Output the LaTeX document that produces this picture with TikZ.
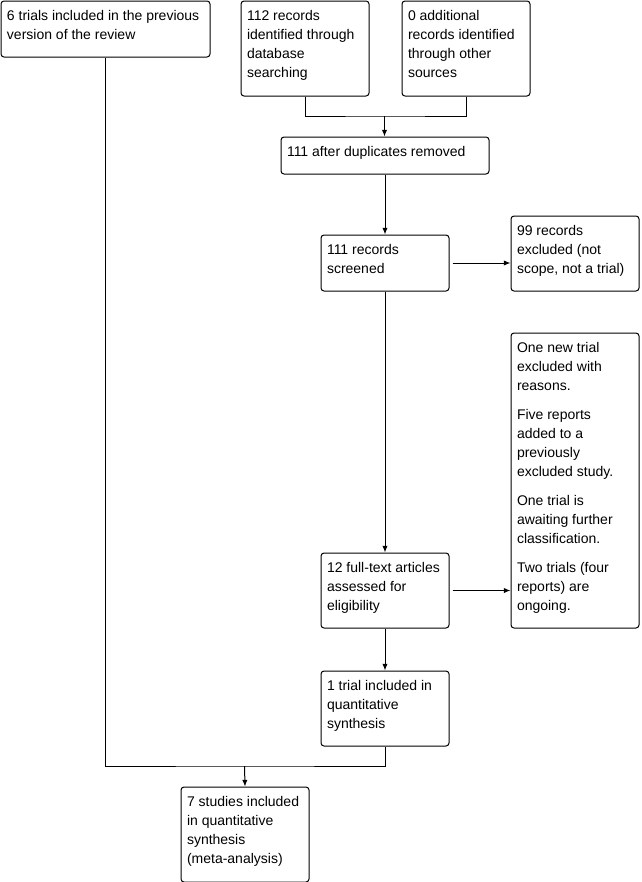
\documentclass[tikz,border=0pt]{standalone}
\usepackage{fontspec}
\setmainfont{Liberation Sans}
\usetikzlibrary{arrows.meta,positioning,calc}
\newdimen\pxu
\pxu=0.75pt

\begin{document}
\begin{tikzpicture}[x=0.75pt,y=-0.75pt,>={Latex[length=5pt,width=4pt]},line width=0.75pt,
  font=\fontsize{10.5pt}{14.25pt}\selectfont,
  b/.style 2 args={draw,rounded corners=2.25pt,anchor=north west,inner xsep=4.5pt,inner ysep=6.75pt,
    execute at begin node={\begin{minipage}[t][#2\pxu][t]{#1\pxu}\raggedright},
    execute at end node={\end{minipage}}}]
\useasboundingbox (0,0) rectangle (642,882);
\node[b={197}{38}] (prev) at (0.5,0.5) {6 trials included in the previous\\version of the review};
\node[b={116}{77}] (db) at (240.5,0.5) {112 records\\identified through\\database\\searching};
\node[b={116}{77},right=24pt of db] (other) {0 additional\\records identified\\through other\\sources};
\node[b={196}{19}] (dup) at (280.5,136.5) {111 after duplicates removed};
\node[b={116}{38}] (screen) at (320.5,234.5) {111 records\\screened};
\node[b={116}{57}] (excl) at (510.5,215.5) {99 records\\excluded (not\\scope, not a trial)};
\node[b={116}{277}] (exclfull) at (510.5,332.5) {One new trial\\excluded with\\reasons.\par\vspace{7.5pt}
  Five reports\\added to a\\previously\\excluded study.\par\vspace{7.5pt}
  One trial is\\awaiting further\\classification.\par\vspace{7.5pt}
  Two trials (four\\reports) are\\ongoing.};
\node[b={116}{57}] (full) at (320.5,552.5) {12 full-text articles\\assessed for\\eligibility};
\node[b={116}{57},below=31.5pt of full] (incl) {1 trial included in\\quantitative\\synthesis};
\node[b={116}{77}] (final) at (180.5,786.5) {7 studies included\\in quantitative\\synthesis\\(meta-analysis)};
\coordinate (top) at (384.5,116);
\coordinate (bot) at (244.5,766);
\draw (db.south) |- (top) -| (other.south);
\draw[->] (top) -- (top |- dup.north);
\draw[->] (dup.south) -- (screen.north);
\draw[->,shorten <=2.25pt] (screen.east) -- (screen.east -| excl.west);
\draw[->] (screen.south) -- (full.north);
\draw[->,shorten <=2.25pt] (full.east) -- (full.east -| exclfull.west);
\draw[->] (full.south) -- (incl.north);
\draw (prev.south) |- (bot) -| (incl.south);
\draw[->] (bot) -- (final.north);
\end{tikzpicture}
\end{document}
